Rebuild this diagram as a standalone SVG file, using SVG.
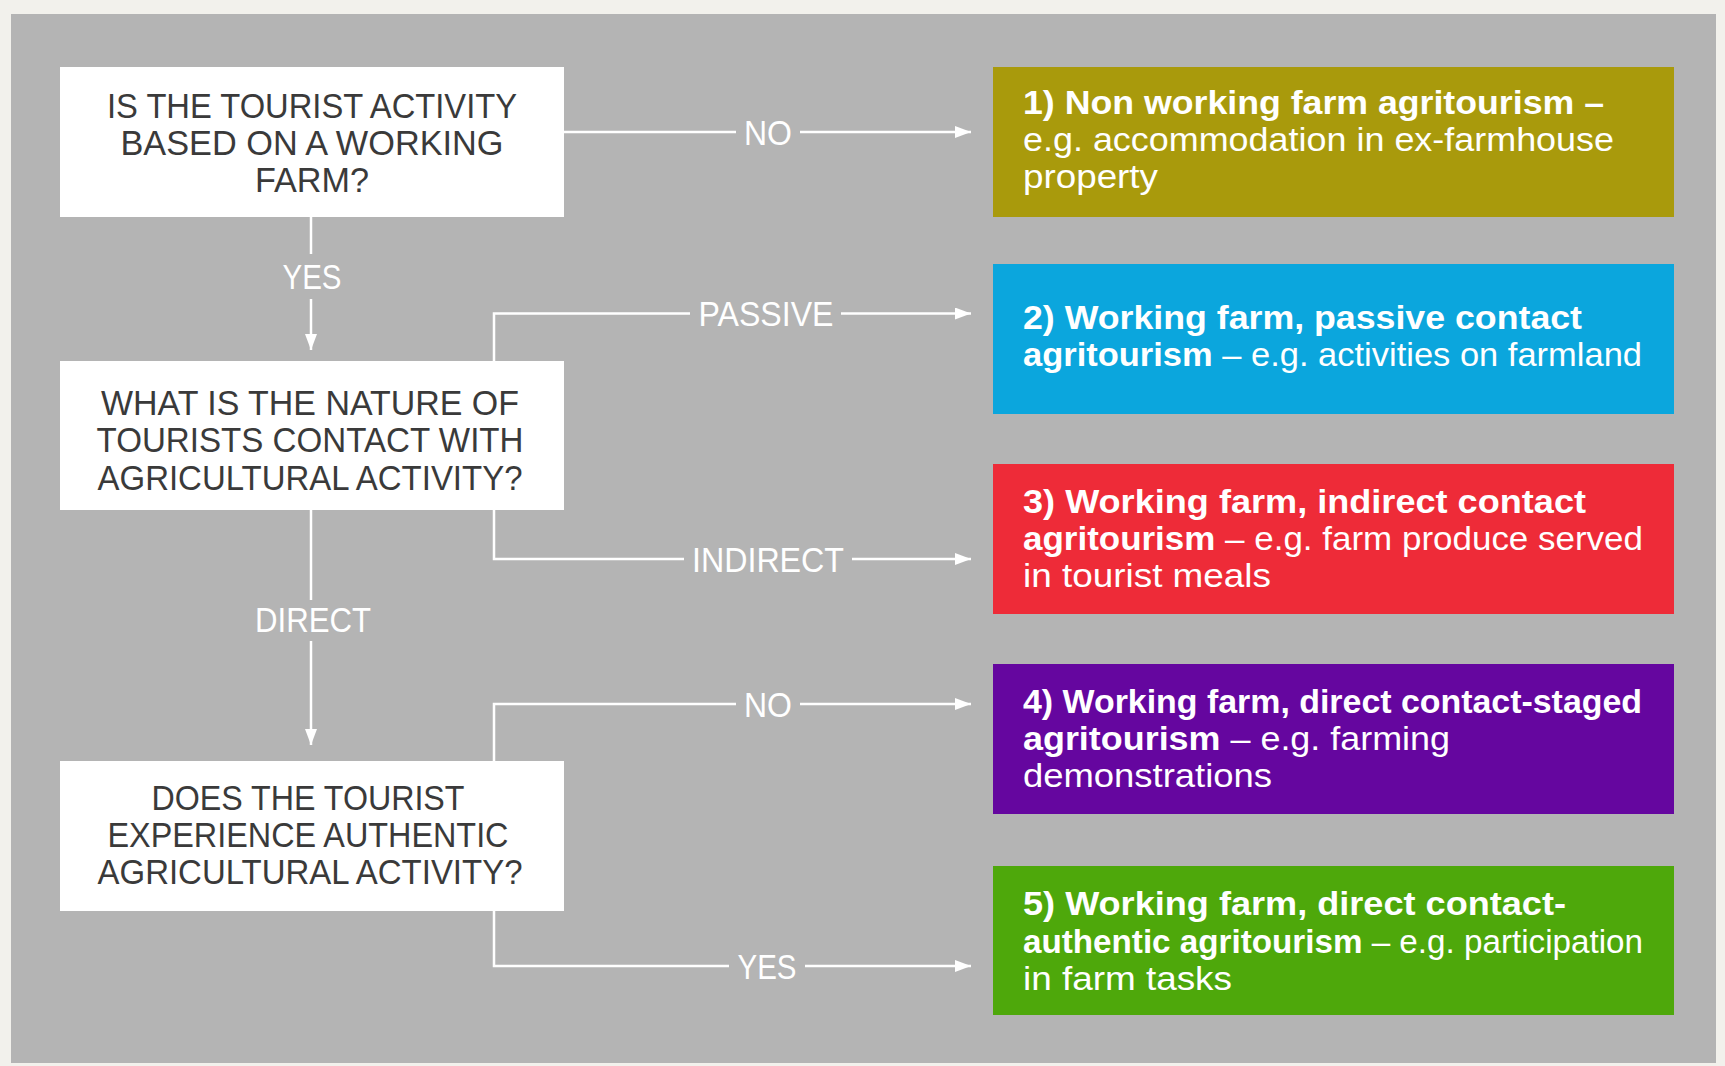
<svg xmlns="http://www.w3.org/2000/svg" width="1725" height="1066" viewBox="0 0 1725 1066">
<defs>
<style>
.q{fill:#ffffff}
.qt{font-family:"Liberation Sans",Arial,sans-serif;font-size:35px;fill:#3a3a3a;text-anchor:middle}
.lab{font-family:"Liberation Sans",Arial,sans-serif;font-size:35px;fill:#ffffff;text-anchor:middle}
.rt{font-family:"Liberation Sans",Arial,sans-serif;font-size:34px;fill:#ffffff}
.b{font-weight:bold}
.con{fill:none;stroke:#ffffff;stroke-width:2.5}
</style>
<marker id="ah" viewBox="0 0 16 12" refX="16" refY="6" markerWidth="16" markerHeight="12" markerUnits="userSpaceOnUse" orient="auto">
<path d="M0,0 L16,6 L0,12 z" fill="#ffffff"/>
</marker>
</defs>
<rect x="0" y="0" width="1725" height="1066" fill="#f2f1ec"/>
<rect x="11" y="14" width="1705" height="1049" fill="#b4b4b4"/>

<g id="connectors">
<path class="con" d="M564 132 H736"/>
<path class="con" d="M800 132 H971" marker-end="url(#ah)"/>
<path class="con" d="M311 217 V254"/>
<path class="con" d="M311 299 V350" marker-end="url(#ah)"/>
<path class="con" d="M494 361 V313.5 H690"/>
<path class="con" d="M841 313.5 H971" marker-end="url(#ah)"/>
<path class="con" d="M494 510 V559 H684"/>
<path class="con" d="M852 559 H971" marker-end="url(#ah)"/>
<path class="con" d="M311 510 V600"/>
<path class="con" d="M311 641 V745" marker-end="url(#ah)"/>
<path class="con" d="M494 761 V704 H736"/>
<path class="con" d="M800 704 H971" marker-end="url(#ah)"/>
<path class="con" d="M494 911 V966 H729"/>
<path class="con" d="M805 966 H971" marker-end="url(#ah)"/>
<text class="lab" x="768" y="145" textLength="48" lengthAdjust="spacingAndGlyphs">NO</text>
<text class="lab" x="312" y="289" textLength="59" lengthAdjust="spacingAndGlyphs">YES</text>
<text class="lab" x="766" y="326" textLength="135" lengthAdjust="spacingAndGlyphs">PASSIVE</text>
<text class="lab" x="768" y="572" textLength="152" lengthAdjust="spacingAndGlyphs">INDIRECT</text>
<text class="lab" x="313" y="632" textLength="116" lengthAdjust="spacingAndGlyphs">DIRECT</text>
<text class="lab" x="768" y="717" textLength="48" lengthAdjust="spacingAndGlyphs">NO</text>
<text class="lab" x="767" y="979" textLength="59" lengthAdjust="spacingAndGlyphs">YES</text>
</g>

<g id="q1">
<rect class="q" x="60" y="67" width="504" height="150"/>
<text class="qt" x="312" y="118" textLength="410" lengthAdjust="spacingAndGlyphs">IS THE TOURIST ACTIVITY</text>
<text class="qt" x="312" y="155" textLength="383" lengthAdjust="spacingAndGlyphs">BASED ON A WORKING</text>
<text class="qt" x="312" y="192" textLength="114" lengthAdjust="spacingAndGlyphs">FARM?</text>
</g>

<g id="q2">
<rect class="q" x="60" y="361" width="504" height="149"/>
<text class="qt" x="310" y="415" textLength="418" lengthAdjust="spacingAndGlyphs">WHAT IS THE NATURE OF</text>
<text class="qt" x="310" y="452" textLength="427" lengthAdjust="spacingAndGlyphs">TOURISTS CONTACT WITH</text>
<text class="qt" x="310" y="490" textLength="425" lengthAdjust="spacingAndGlyphs">AGRICULTURAL ACTIVITY?</text>
</g>

<g id="q3">
<rect class="q" x="60" y="761" width="504" height="150"/>
<text class="qt" x="308" y="810" textLength="313" lengthAdjust="spacingAndGlyphs">DOES THE TOURIST</text>
<text class="qt" x="308" y="847" textLength="401" lengthAdjust="spacingAndGlyphs">EXPERIENCE AUTHENTIC</text>
<text class="qt" x="310" y="884" textLength="425" lengthAdjust="spacingAndGlyphs">AGRICULTURAL ACTIVITY?</text>
</g>

<g id="r1">
<rect x="993" y="67" width="681" height="150" fill="#a99a0c"/>
<text class="rt b" x="1023" y="114" textLength="581" lengthAdjust="spacingAndGlyphs">1) Non working farm agritourism –</text>
<text class="rt" x="1023" y="151" textLength="591" lengthAdjust="spacingAndGlyphs">e.g. accommodation in ex-farmhouse</text>
<text class="rt" x="1023" y="188" textLength="135" lengthAdjust="spacingAndGlyphs">property</text>
</g>

<g id="r2">
<rect x="993" y="264" width="681" height="150" fill="#0ba6dd"/>
<text class="rt b" x="1023" y="329" textLength="559" lengthAdjust="spacingAndGlyphs">2) Working farm, passive contact</text>
<text class="rt" x="1023" y="366" textLength="619" lengthAdjust="spacingAndGlyphs"><tspan class="b">agritourism</tspan> – e.g. activities on farmland</text>
</g>

<g id="r3">
<rect x="993" y="464" width="681" height="150" fill="#ee2b38"/>
<text class="rt b" x="1023" y="513" textLength="563" lengthAdjust="spacingAndGlyphs">3) Working farm, indirect contact</text>
<text class="rt" x="1023" y="550" textLength="620" lengthAdjust="spacingAndGlyphs"><tspan class="b">agritourism</tspan> – e.g. farm produce served</text>
<text class="rt" x="1023" y="587" textLength="248" lengthAdjust="spacingAndGlyphs">in tourist meals</text>
</g>

<g id="r4">
<rect x="993" y="664" width="681" height="150" fill="#65069f"/>
<text class="rt b" x="1023" y="713" textLength="619" lengthAdjust="spacingAndGlyphs">4) Working farm, direct contact-staged</text>
<text class="rt" x="1023" y="750" textLength="427" lengthAdjust="spacingAndGlyphs"><tspan class="b">agritourism</tspan> – e.g. farming</text>
<text class="rt" x="1023" y="787" textLength="249" lengthAdjust="spacingAndGlyphs">demonstrations</text>
</g>

<g id="r5">
<rect x="993" y="866" width="681" height="149" fill="#4ea80b"/>
<text class="rt b" x="1023" y="915" textLength="543" lengthAdjust="spacingAndGlyphs">5) Working farm, direct contact-</text>
<text class="rt" x="1023" y="953" textLength="620" lengthAdjust="spacingAndGlyphs"><tspan class="b">authentic agritourism</tspan> – e.g. participation</text>
<text class="rt" x="1023" y="990" textLength="209" lengthAdjust="spacingAndGlyphs">in farm tasks</text>
</g>
</svg>
